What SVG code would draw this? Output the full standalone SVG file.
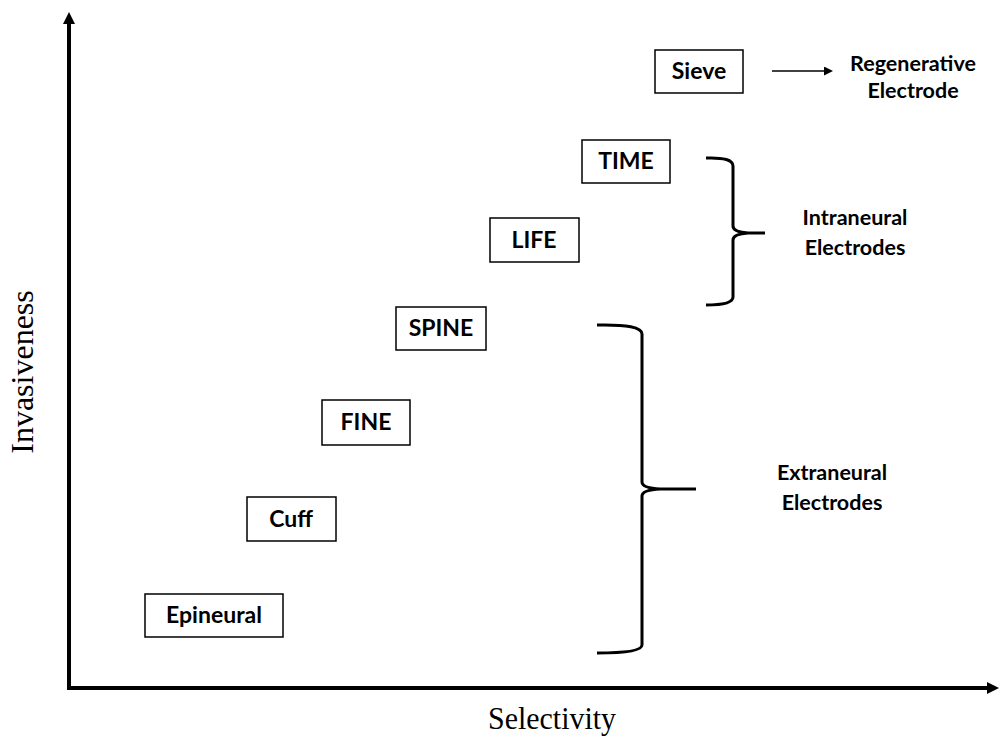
<svg xmlns="http://www.w3.org/2000/svg" width="1001" height="738" viewBox="0 0 1001 738">
<style>
.box{fill:#fff;stroke:#000;stroke-width:1.5}
.lbl{font-family:Lato,"Liberation Sans",sans-serif;font-weight:bold;font-size:23px;fill:#000;text-anchor:middle}
.grp{font-family:Lato,"Liberation Sans",sans-serif;font-weight:bold;font-size:21.5px;fill:#000;text-anchor:middle}
.ax{font-family:"Liberation Serif",serif;font-size:32px;fill:#000;text-anchor:middle}
.br{fill:none;stroke:#000;stroke-width:3}
</style>
<defs>
<marker id="ah" markerWidth="9" markerHeight="9" refX="4" refY="4.5" orient="auto" markerUnits="userSpaceOnUse">
<path d="M0,0 L9,4.5 L0,9 z" fill="#000"/>
</marker>
<marker id="axh" markerWidth="12" markerHeight="12" refX="6" refY="6" orient="auto" markerUnits="userSpaceOnUse">
<path d="M0,0 L12,6 L0,12 z" fill="#000"/>
</marker>
</defs>
<g id="axes">
<path d="M69,688 L69,18" stroke="#000" stroke-width="4" fill="none" marker-end="url(#axh)"/>
<path d="M67,688 L993,688" stroke="#000" stroke-width="4" fill="none" marker-end="url(#axh)"/>
<text class="ax" x="552" y="729" font-size="29" textLength="128" lengthAdjust="spacingAndGlyphs">Selectivity</text>
<text class="ax" transform="translate(33,372) rotate(-90)" x="0" y="0">Invasiveness</text>
</g>
<g id="sieve"><rect class="box" x="655" y="50" width="88" height="43"/><text class="lbl" x="699" y="79">Sieve</text></g>
<g id="time"><rect class="box" x="582" y="140" width="88" height="43"/><text class="lbl" x="626" y="169">TIME</text></g>
<g id="life"><rect class="box" x="490" y="218" width="89" height="44"/><text class="lbl" x="534" y="248">LIFE</text></g>
<g id="spine"><rect class="box" x="396" y="307" width="90" height="43"/><text class="lbl" x="441" y="336">SPINE</text></g>
<g id="fine"><rect class="box" x="322" y="400" width="88" height="45"/><text class="lbl" x="366" y="430">FINE</text></g>
<g id="cuff"><rect class="box" x="247" y="497" width="89" height="44"/><text class="lbl" x="291" y="527">Cuff</text></g>
<g id="epineural"><rect class="box" x="145" y="594" width="138" height="43"/><text class="lbl" x="214" y="623">Epineural</text></g>
<g id="regenerative"><text class="grp" x="913" y="71">Regenerative</text><text class="grp" x="913" y="98">Electrode</text></g>
<g id="connectors">
<path d="M772,71 L828,71" stroke="#000" stroke-width="1.5" fill="none" marker-end="url(#ah)"/>
<path class="br" d="M706,158 Q733,157 733,166 L733,226 Q733,232 748,233 L765,233 M748,233 Q733,234 733,240 L733,297 Q733,305 706,305"/>
<path class="br" d="M597,325 Q642,324 642,334 L642,482 Q642,488 660,489 L696,489 M660,489 Q642,490 642,496 L642,645 Q642,653 597,653"/>
</g>
<g id="intraneural"><text class="grp" x="855" y="225">Intraneural</text><text class="grp" x="855" y="255">Electrodes</text></g>
<g id="extraneural"><text class="grp" x="832" y="480">Extraneural</text><text class="grp" x="832" y="510">Electrodes</text></g>
</svg>
